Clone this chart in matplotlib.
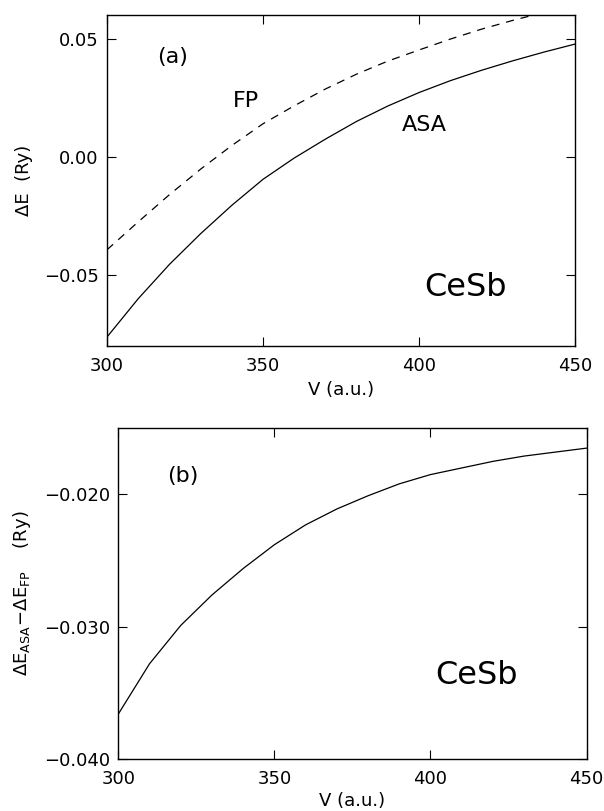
import numpy as np
import matplotlib
matplotlib.use('Agg')
import matplotlib.pyplot as plt
from matplotlib.ticker import FuncFormatter

# volume grid (a.u.)
V = [300, 310, 320, 330, 340, 350, 360, 370, 380, 390, 400, 410, 420, 430, 440, 450]

# panel (a): energy differences, ASA (solid) and full potential (dashed)
dE_asa = [-0.0762, -0.0600, -0.0455, -0.0325, -0.0205, -0.0095, -0.0005, 0.0075,
          0.0150, 0.0215, 0.0272, 0.0322, 0.0366, 0.0406, 0.0443, 0.0477]
dE_fp = [-0.0393, -0.0275, -0.0160, -0.0052, 0.0048, 0.0140, 0.0216, 0.0287,
         0.0350, 0.0405, 0.0452, 0.0498, 0.0540, 0.0577, 0.0611, 0.0642]

# panel (b): ASA - FP
dE_diff = [-0.0366, -0.0328, -0.0299, -0.0276, -0.0256, -0.0238, -0.0223, -0.0211,
           -0.0201, -0.0192, -0.0185, -0.0180, -0.0175, -0.0171, -0.0168, -0.0165]

xticks = [300, 350, 400, 450]
yticks_a = [-0.05, 0.00, 0.05]
yticks_b = [-0.040, -0.030, -0.020]


def fmt(nd):
    return FuncFormatter(lambda v, p: ('%.*f' % (nd, v)).replace('-', '\u2212'))


def style(ax):
    ax.tick_params(direction='in', length=6.7, width=0.8, top=True, right=True,
                   labelsize=13, pad=6)
    ax.tick_params(axis='x', pad=8)
    for s in ax.spines.values():
        s.set_linewidth(1.0)
    ax.set_xlim(300, 450)
    ax.set_xticks(xticks)


fig = plt.figure(figsize=(6.04, 8.11), dpi=100)

ax1 = fig.add_axes([0.1772, 0.5734, 0.7748, 0.4081])
ax1.plot(V, dE_asa, color='black', lw=0.9)
ax1.plot(V, dE_fp, color='black', lw=0.9, dashes=(6.5, 5.5))
style(ax1)
ax1.set_ylim(-0.080, 0.060)
ax1.set_yticks(yticks_a)
ax1.yaxis.set_major_formatter(fmt(2))
ax1.set_xlabel('V (a.u.)', fontsize=13, labelpad=4)
ax1.set_ylabel('\u0394E  (Ry)', fontsize=13, labelpad=8)
ax1.text(0.139, 0.874, '(a)', transform=ax1.transAxes, fontsize=16, ha='center', va='center')
ax1.text(0.297, 0.740, 'FP', transform=ax1.transAxes, fontsize=16, ha='center', va='center')
ax1.text(0.678, 0.668, 'ASA', transform=ax1.transAxes, fontsize=16, ha='center', va='center')
ax1.text(0.765, 0.177, 'CeSb', transform=ax1.transAxes, fontsize=23, ha='center', va='center')

ax2 = fig.add_axes([0.1959, 0.0641, 0.7752, 0.4078])
ax2.plot(V, dE_diff, color='black', lw=0.9)
style(ax2)
ax2.set_ylim(-0.040, -0.015)
ax2.set_yticks(yticks_b)
ax2.yaxis.set_major_formatter(fmt(3))
ax2.set_xlabel('V (a.u.)', fontsize=13, labelpad=3)
ax2.set_ylabel(r'$\Delta\mathrm{E}_{\mathrm{ASA}}\!-\!\Delta\mathrm{E}_{\mathrm{FP}}$    (Ry)',
               fontsize=13, labelpad=8)
ax2.text(0.137, 0.856, '(b)', transform=ax2.transAxes, fontsize=16, ha='center', va='center')
ax2.text(0.764, 0.254, 'CeSb', transform=ax2.transAxes, fontsize=23, ha='center', va='center')

fig.savefig('out.png', dpi=100)
